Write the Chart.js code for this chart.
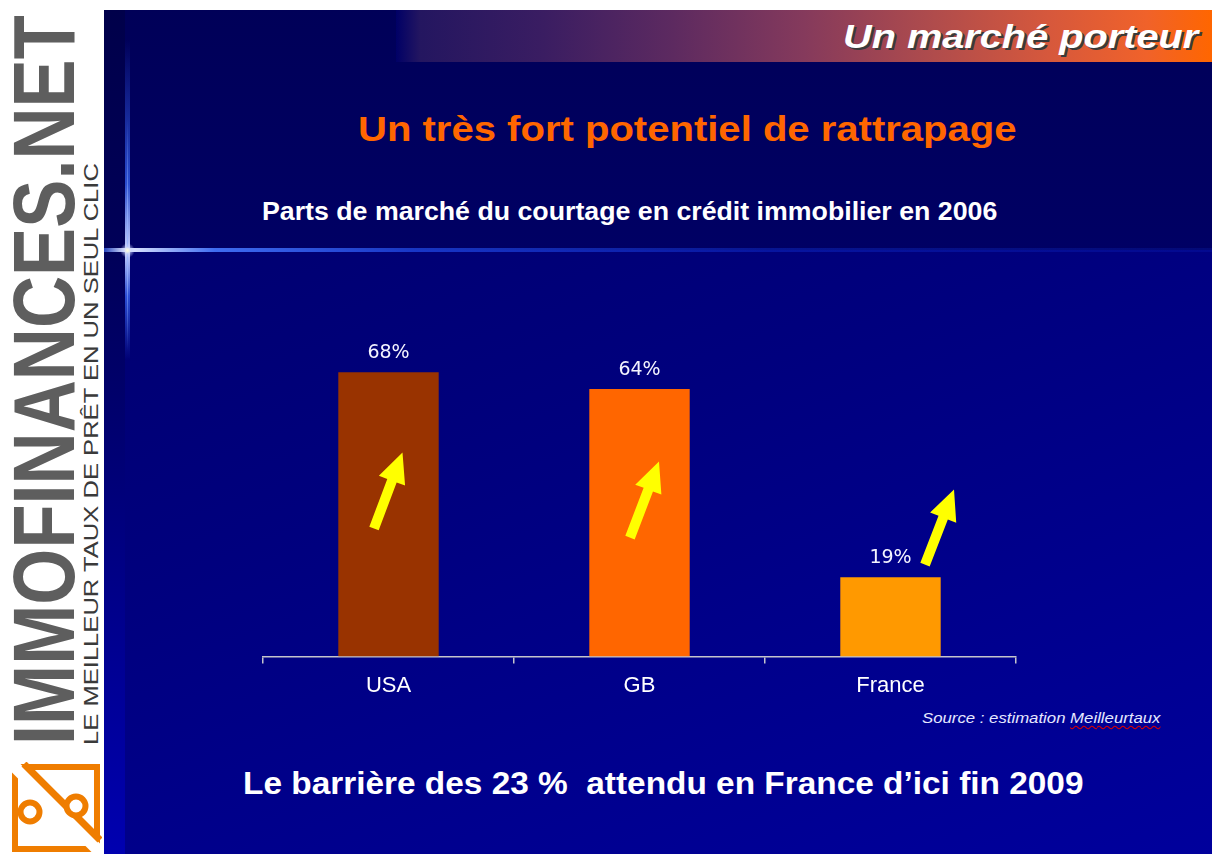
<!DOCTYPE html>
<html lang="fr">
<head>
<meta charset="utf-8">
<title>Un marché porteur</title>
<script src="https://cdn.jsdelivr.net/npm/chart.js@4.4.0/dist/chart.umd.min.js"></script>
<style>
  html, body { margin:0; padding:0; }
  body { width:1215px; height:854px; overflow:hidden; background:#ffffff; position:relative; font-family:"Liberation Sans", Arial, sans-serif; }
  .abs { position:absolute; white-space:nowrap; transform-origin:0 0; line-height:1; }
  #slideTop { position:absolute; left:104px; top:10px; width:1108px; height:240px; background:linear-gradient(180deg,#000058 0%,#000064 100%); }
  #slideBottom { position:absolute; left:104px; top:250px; width:1108px; height:604px; background:linear-gradient(160deg,#000070 0%,#00007e 35%,#00008c 65%,#00009c 100%); }
  #stripe { position:absolute; left:104px; top:10px; width:21px; height:844px; background:linear-gradient(180deg,#00004a 0%,#000058 28%,#00006a 45%,#000090 75%,#0000b0 100%); }
  #header { position:absolute; left:396px; top:10px; width:816px; height:52px;
    background:linear-gradient(90deg,#000066 0%,#241660 3%,#3a1d62 18%,#5d2a60 34%,#853a5c 50%,#b04c4c 66%,#d6583c 80%,#f0622a 92%,#ff6600 100%); }
  #vglow { position:absolute; left:125px; top:40px; width:5px; height:320px;
    background:linear-gradient(180deg,rgba(40,90,255,0) 0%,rgba(60,110,255,0.7) 45%,rgba(200,210,255,1) 66%,rgba(60,110,255,0.7) 80%,rgba(40,90,255,0) 100%); }
  #vcore { position:absolute; left:127px; top:120px; width:1px; height:230px;
    background:linear-gradient(180deg,rgba(120,160,255,0) 0%,rgba(150,180,255,0.9) 55%,rgba(255,255,220,1) 56.5%,rgba(150,180,255,0.9) 58%,rgba(120,160,255,0) 100%); }
  #hglow { position:absolute; left:104px; top:248px; width:1108px; height:4px;
    background:linear-gradient(90deg,rgba(60,110,255,0.6) 0%,rgba(230,235,255,1) 2%,rgba(70,120,255,0.9) 10%,rgba(40,90,255,0.6) 28%,rgba(20,60,230,0.35) 60%,rgba(20,60,230,0.15) 100%); }
  #star { position:absolute; left:120px; top:243px; width:15px; height:15px; border-radius:50%;
    background:radial-gradient(circle, rgba(255,255,220,1) 0%, rgba(200,210,255,0.6) 35%, rgba(80,120,255,0) 70%); }
  #chartBox { position:absolute; left:104px; top:250px; width:1108px; height:530px; }
</style>
</head>
<body>
<div id="slideTop"></div>
<div id="slideBottom"></div>
<div id="stripe"></div>
<div id="header"></div>
<div id="vglow"></div>
<div id="hglow"></div>
<div id="vcore"></div>
<div id="star"></div>

<!-- left brand column -->
<div class="abs fit" data-w="730" data-rot="1" style="left:0px; top:745px; font-size:88px; color:#5e5e5e; font-weight:bold;">IMMOFINANCES.NET</div>
<div class="abs fit" data-w="582" data-rot="1" style="left:81px; top:745px; font-size:20px; color:#3a3a3a;">LE MEILLEUR TAUX DE PRÊT EN UN SEUL CLIC</div>
<svg style="position:absolute; left:10px; top:762px;" width="92" height="92" viewBox="0 0 92 92">
  <rect x="5" y="5" width="82" height="82" fill="none" stroke="#ef7d00" stroke-width="6"/>
  <line x1="-2" y1="-2" x2="94" y2="94" stroke="#ffffff" stroke-width="12"/>
  <line x1="14" y1="2" x2="90" y2="78" stroke="#ef7d00" stroke-width="7"/>
  <circle cx="20" cy="50" r="9.5" fill="#ffffff" stroke="#ef7d00" stroke-width="6"/>
  <circle cx="66" cy="44" r="9.5" fill="#ffffff" stroke="#ef7d00" stroke-width="6"/>
</svg>

<!-- slide texts -->
<div class="abs fit" data-w="355" style="left:843px; top:19px; font-size:34px; font-weight:bold; font-style:italic; color:#ffffff; text-shadow:2px 2px 0 #3a3a3a;">Un marché porteur</div>
<div class="abs fit" data-w="659" style="left:358px; top:111px; font-size:35px; font-weight:bold; color:#ff6600;">Un très fort potentiel de rattrapage</div>
<div class="abs fit" data-w="735" style="left:262px; top:198px; font-size:26px; font-weight:bold; color:#ffffff;">Parts de marché du courtage en crédit immobilier en 2006</div>
<div class="abs fit" data-w="238" style="left:922px; top:710px; font-size:15px; font-style:italic; color:#e6e8ff;">Source : estimation <span style="text-decoration:underline wavy #e00000; text-decoration-thickness:1px; text-underline-offset:2px;">Meilleurtaux</span></div>
<div class="abs fit" data-w="840" style="left:243px; top:768px; font-size:31px; font-weight:bold; color:#ffffff;">Le barrière des 23 %&nbsp; attendu en France d’ici fin 2009</div>

<div id="chartBox"><canvas id="chart"></canvas></div>

<script>
// ---- data ----
const categories = ['USA', 'GB', 'France'];
const shares = [68, 64, 19];
const valueLabels = ['68%', '64%', '19%'];
const axisMin = 0;
const axisMax = 80;

// fit slide texts to their measured widths
function fitAll() {
  document.querySelectorAll('.fit').forEach(el => {
    const w = parseFloat(el.dataset.w);
    const nat = el.offsetWidth;
    const s = w / nat;
    el.style.transform = (el.dataset.rot ? 'rotate(-90deg) ' : '') + 'scaleX(' + s + ')';
  });
}

const barColors = ['#993300', '#ff6600', '#ff9900'];
// arrow decoration offsets relative to each bar's centre / baseline (pixels)
const arrowStyle = { color: '#ffff00', shaftHalf: 5, headHalf: 14, headLen: 30 };
const arrowOffsets = [
  { tx: -14.5, ty: -128, hx: 14, hy: -204 },
  { tx: -9.5,  ty: -119, hx: 19.5, hy: -195 },
  { tx: 34.5,  ty: -92,  hx: 63.5, hy: -167 }
];

function drawArrow(ctx, x0, y0, x1, y1, st) {
  const dx = x1 - x0, dy = y1 - y0, L = Math.hypot(dx, dy);
  const ux = dx / L, uy = dy / L, px = -uy, py = ux;
  const nx = x1 - ux * st.headLen, ny = y1 - uy * st.headLen;
  ctx.beginPath();
  ctx.moveTo(x0 + px * st.shaftHalf, y0 + py * st.shaftHalf);
  ctx.lineTo(nx + px * st.shaftHalf, ny + py * st.shaftHalf);
  ctx.lineTo(nx + px * st.headHalf, ny + py * st.headHalf);
  ctx.lineTo(x1, y1);
  ctx.lineTo(nx - px * st.headHalf, ny - py * st.headHalf);
  ctx.lineTo(nx - px * st.shaftHalf, ny - py * st.shaftHalf);
  ctx.lineTo(x0 - px * st.shaftHalf, y0 - py * st.shaftHalf);
  ctx.closePath();
  ctx.fillStyle = st.color;
  ctx.fill();
}

const decorPlugin = {
  id: 'decor',
  afterDatasetsDraw(chart) {
    const ctx = chart.ctx;
    const meta = chart.getDatasetMeta(0);
    const base = chart.scales.y.getPixelForValue(0);
    ctx.save();
    meta.data.forEach((bar, i) => {
      ctx.font = '19px "DejaVu Sans", Verdana, sans-serif';
      ctx.fillStyle = '#f4f4ff';
      ctx.textAlign = 'center';
      ctx.textBaseline = 'middle';
      ctx.fillText(valueLabels[i], bar.x, bar.y - 19);
      const o = arrowOffsets[i];
      drawArrow(ctx, bar.x + o.tx, base + o.ty, bar.x + o.hx, base + o.hy, arrowStyle);
    });
    ctx.restore();
  }
};

function build() {
  new Chart(document.getElementById('chart'), {
    type: 'bar',
    data: {
      labels: categories,
      datasets: [{
        data: shares,
        backgroundColor: barColors,
        borderWidth: 0,
        barPercentage: 0.4,
        categoryPercentage: 1.0
      }]
    },
    options: {
      responsive: true,
      maintainAspectRatio: false,
      animation: false,
      layout: { padding: { left: 159, right: 196, top: 72, bottom: 72 } },
      plugins: { legend: { display: false }, tooltip: { enabled: false } },
      scales: {
        x: {
          offset: true,
          border: { display: true, color: '#c4c4cc', width: 1.5 },
          grid: { display: true, offset: true, drawOnChartArea: false, drawTicks: true, tickLength: 7, color: '#c4c4cc', lineWidth: 1.5 },
          ticks: { color: '#ffffff', padding: 9, font: { family: '"Liberation Sans", Arial, sans-serif', size: 22 } }
        },
        y: { display: false, min: axisMin, max: axisMax }
      }
    },
    plugins: [decorPlugin]
  });
}

(document.fonts ? document.fonts.ready : Promise.resolve()).then(() => { fitAll(); build(); });
</script>
</body>
</html>
